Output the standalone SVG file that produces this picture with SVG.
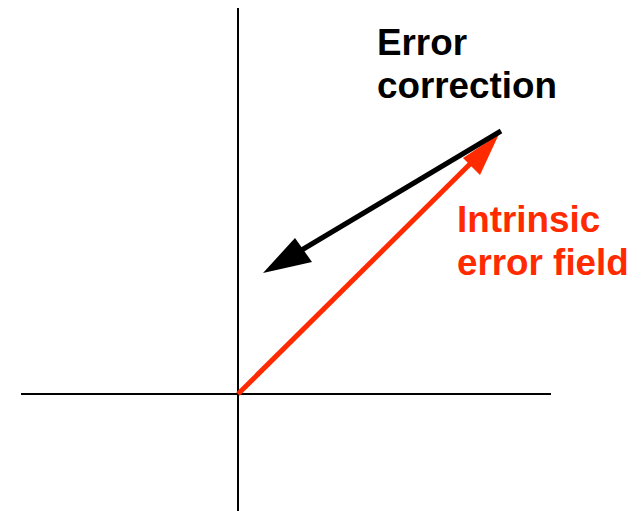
<svg xmlns="http://www.w3.org/2000/svg" width="644" height="511" viewBox="0 0 644 511">
<style>
.axis{stroke:#000;stroke-width:2;fill:none}
.lbl{font-family:"Liberation Sans",Arial,sans-serif;font-weight:bold;font-size:36.8px}
</style>
<rect width="644" height="511" fill="#fff"/>
<g id="axes">
<line class="axis" x1="238" y1="8" x2="238" y2="511"/>
<line class="axis" x1="21" y1="394" x2="551" y2="394"/>
</g>
<g id="connectors">
<line x1="238" y1="394" x2="472" y2="162" stroke="#ff2a00" stroke-width="5"/>
<polygon points="499,134 463,158 480,175" fill="#ff2a00"/>
<line x1="501" y1="131" x2="300" y2="251" stroke="#000" stroke-width="5"/>
<polygon points="263,273 295,238 312,262" fill="#000"/>
</g>
<g id="label-error-correction">
<text class="lbl" x="377" y="55" fill="#000">Error</text>
<text class="lbl" x="377" y="98" fill="#000">correction</text>
</g>
<g id="label-intrinsic">
<text class="lbl" x="457" y="232" fill="#ff2a00">Intrinsic</text>
<text class="lbl" x="457" y="275" fill="#ff2a00">error field</text>
</g>
</svg>
